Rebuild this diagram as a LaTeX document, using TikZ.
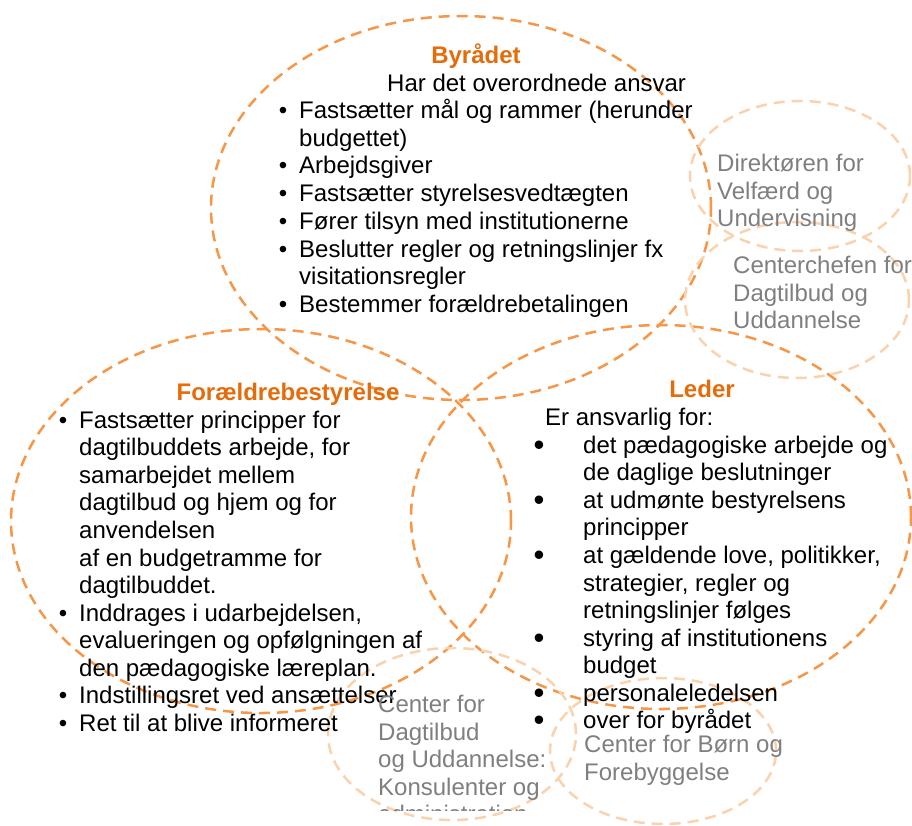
\documentclass[tikz,border=0pt]{standalone}
\usepackage{fontspec}
\setmainfont{Liberation Sans}
\usetikzlibrary{shapes.geometric}
\definecolor{ttl}{HTML}{E46C0A}
\definecolor{orng}{HTML}{F79646}
\definecolor{peach}{HTML}{FAD2AE}
\definecolor{grtx}{HTML}{7F7F7F}
\begin{document}
\begin{tikzpicture}[x=1pt,y=-1pt,
 bigell/.style={ellipse, draw=orng, line width=2.5pt, dash pattern=on 11pt off 7pt, minimum width=500pt, minimum height=384pt, inner sep=0pt, outer sep=0pt},
 smell/.style={ellipse, draw=peach, line width=2.5pt, dash pattern=on 11pt off 7pt, inner sep=0pt, outer sep=0pt},
 ln/.style={anchor=base west, inner sep=0pt, font=\fontsize{24}{28}\selectfont},
 bul/.style={anchor=base, inner sep=0pt, font=\fontsize{24}{28}\selectfont},
 lbul/.style={anchor=base, inner sep=0pt, font=\fontsize{31}{28}\selectfont},
 ttlst/.style={anchor=base, inner sep=0pt, font=\fontsize{24}{28}\selectfont\bfseries, text=ttl},
 gr/.style={ln, text=grtx},
]
\useasboundingbox (0,0) rectangle (912,825);
\fill[white] (0,0) rectangle (912,825);

% main ellipses
\node[bigell] (byr) at (461,208) {};
\node[bigell] (for) at (261,521) {};
\node[bigell] (led) at (661,517) {};

% light ellipses
\node[smell, minimum width=220pt, minimum height=150pt] (dir) at (800,176) {};
\node[smell, minimum width=224pt, minimum height=156pt] (cc) at (797,300) {};
\node[smell, minimum width=248pt, minimum height=172pt] (cdu) at (452,734) {};
\node[smell, minimum width=226pt, minimum height=146pt] (cbf) at (663,751) {};

% Byraadet
\node[ttlst] (byr-t) at (476,63) {Byrådet};
\node[ln] (byr-s) at (387,91) {Har det overordnede ansvar};
\foreach \yy/\tx [count=\i] in {118/{Fastsætter mål og rammer (herunder},
  146/{budgettet)}, 173/{Arbejdsgiver}, 201/{Fastsætter styrelsesvedtægten},
  229/{Fører tilsyn med institutionerne}, 257/{Beslutter regler og retningslinjer fx},
  284/{visitationsregler}, 312/{Bestemmer forældrebetalingen}}
  \node[ln] (byr-l\i) at (299,\yy) {\tx};
\foreach \yy [count=\i] in {118,173,201,229,257,312}
  \node[bul] (byr-b\i) at (283,\yy) {•};

% Foraeldrebestyrelse
\node[ttlst] (for-t) at (288,400) {Forældrebestyrelse};
\foreach \yy/\tx [count=\i] in {428/{Fastsætter principper for},
  455/{dagtilbuddets arbejde, for}, 483/{samarbejdet mellem},
  510/{dagtilbud og hjem og for}, 538/{anvendelsen},
  566/{af en budgetramme for}, 593/{dagtilbuddet.},
  621/{Inddrages i udarbejdelsen,}, 648/{evalueringen og opfølgningen af},
  676/{den pædagogiske læreplan.}, 703/{Indstillingsret ved ansættelser},
  731/{Ret til at blive informeret}}
  \node[ln] (for-l\i) at (79,\yy) {\tx};
\foreach \yy [count=\i] in {428,621,703,731}
  \node[bul] (for-b\i) at (63,\yy) {•};

% Leder
\node[ttlst] (led-t) at (702,397) {Leder};
\node[ln] (led-s) at (545,425) {Er ansvarlig for:};
\foreach \yy/\tx [count=\i] in {453/{det pædagogiske arbejde og},
  480/{de daglige beslutninger}, 508/{at udmønte bestyrelsens},
  535/{principper}, 563/{at gældende love, politikker,},
  591/{strategier, regler og}, 618/{retningslinjer følges},
  646/{styring af institutionens}, 673/{budget},
  701/{personaleledelsen}, 728/{over for byrådet}}
  \node[ln] (led-l\i) at (583,\yy) {\tx};
\foreach \yy [count=\i] in {453,508,563,646,701,728}
  \node[lbul] (led-b\i) at (539,\yy+2.5) {•};

% grey texts
\foreach \yy/\tx [count=\i] in {171/{Direktøren for}, 199/{Velfærd og}, 226/{Undervisning}}
  \node[gr] (dir-l\i) at (717,\yy) {\tx};
\foreach \yy/\tx [count=\i] in {273/{Centerchefen for}, 301/{Dagtilbud og}, 328/{Uddannelse}}
  \node[gr] (cc-l\i) at (733,\yy) {\tx};
\begin{scope}
  \clip (300,600) rectangle (600,810);
  \foreach \yy/\tx [count=\i] in {712/{Center for}, 740/{Dagtilbud}, 767/{og Uddannelse:},
    795/{Konsulenter og}, 822/{administration}}
    \node[gr] (cdu-l\i) at (378,\yy) {\tx};
\end{scope}
\foreach \yy/\tx [count=\i] in {752/{Center for Børn og}, 780/{Forebyggelse}}
  \node[gr] (cbf-l\i) at (584,\yy) {\tx};
\end{tikzpicture}
\end{document}
